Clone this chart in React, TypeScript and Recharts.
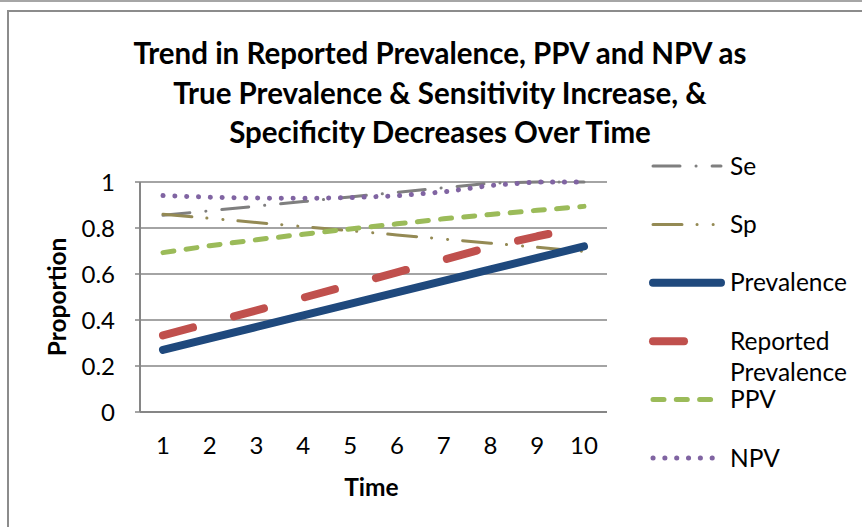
import React from 'react';
import { LineChart, Line, XAxis, YAxis, CartesianGrid } from 'recharts';

const times = [1, 2, 3, 4, 5, 6, 7, 8, 9, 10];
const se = [0.855, 0.875, 0.895, 0.915, 0.935, 0.955, 0.975, 0.995, 1.0, 1.0];
const sp = [0.86, 0.842, 0.824, 0.806, 0.788, 0.77, 0.752, 0.734, 0.716, 0.698];
const prevalence = [0.27, 0.32, 0.37, 0.42, 0.47, 0.52, 0.57, 0.62, 0.67, 0.72];
const reported = [0.333, 0.387, 0.442, 0.497, 0.552, 0.607, 0.662, 0.718, 0.764, 0.805];
const ppv = [0.693, 0.723, 0.749, 0.773, 0.796, 0.818, 0.84, 0.859, 0.877, 0.894];
const npv = [0.941, 0.934, 0.93, 0.929, 0.932, 0.94, 0.957, 0.985, 1.0, 1.0];
const yTicks = [0, 0.2, 0.4, 0.6, 0.8, 1];

const titleLines = [
  'Trend in Reported Prevalence, PPV and NPV as',
  'True Prevalence & Sensitivity Increase, &',
  'Specificity Decreases Over Time',
];

const data = times.map((t, i) => ({
  time: t,
  se: se[i],
  sp: sp[i],
  prevalence: prevalence[i],
  reported: reported[i],
  ppv: ppv[i],
  npv: npv[i],
}));

const FONT = 'Lato, "Open Sans", sans-serif';
const AXIS = '#868686';

// line styles, roughly matching the Excel presets
const series = [
  { key: 'se', name: ['Se'], color: '#7f7f7f', width: 3, dash: '27 16 0.1 16' },
  { key: 'sp', name: ['Sp'], color: '#948a54', width: 3, dash: '29 15 0.1 16 0.1 15' },
  { key: 'prevalence', name: ['Prevalence'], color: '#1f497d', width: 8, dash: undefined },
  { key: 'reported', name: ['Reported', 'Prevalence'], color: '#c0504d', width: 8, dash: '31 42.5' },
  { key: 'ppv', name: ['PPV'], color: '#9bbb59', width: 5, dash: '11 12.3' },
  { key: 'npv', name: ['NPV'], color: '#8064a2', width: 5, dash: '0.1 11.73' },
];

const LegendBox = () => (
  <svg width={230} height={360} style={{ position: 'absolute', left: 632, top: 130 }}>
    {series.map((s, i) => {
      const y = 36 + i * 58.4;
      return (
        <g key={s.key}>
          <line
            x1={21}
            x2={89}
            y1={y}
            y2={y}
            stroke={s.color}
            strokeWidth={s.width}
            strokeDasharray={s.dash}
            strokeLinecap="round"
          />
          <text x={98} y={y} fontFamily={FONT} fontSize={24.5} fill="#000">
            {s.name.map((n, j) => (
              <tspan key={j} x={98} dy={j === 0 ? '0.35em' : 31}>
                {n}
              </tspan>
            ))}
          </text>
        </g>
      );
    })}
  </svg>
);

export default function App() {
  return (
    <div
      style={{
        position: 'absolute',
        left: 0,
        top: 0,
        width: 862,
        height: 527,
        overflow: 'hidden',
        background: '#fff',
        fontFamily: FONT,
      }}
    >
      <div style={{ position: 'absolute', left: 0, top: 0, width: 862, height: 2, background: '#a6a6a6' }} />
      <div
        style={{
          position: 'absolute',
          left: 7,
          top: 10,
          width: 900,
          height: 600,
          borderLeft: '2px solid #8c8c8c',
          borderTop: '2px solid #8c8c8c',
        }}
      />
      <div
        style={{
          position: 'absolute',
          left: 90,
          top: 33,
          width: 700,
          textAlign: 'center',
          fontWeight: 700,
          fontSize: 29.5,
          lineHeight: '39.5px',
          color: '#000',
        }}
      >
        {titleLines.map((l) => (
          <div key={l} style={{ whiteSpace: 'nowrap' }}>{l}</div>
        ))}
      </div>
      <div style={{ position: 'absolute', left: 0, top: 0 }}>
        <LineChart
          width={862}
          height={527}
          data={data}
          margin={{ top: 182, right: 255, bottom: 40, left: 40 }}
        >
          <CartesianGrid vertical={false} stroke={AXIS} strokeWidth={1.5} />
          <XAxis
            dataKey="time"
            padding={{ left: 23, right: 23 }}
            axisLine={{ stroke: AXIS, strokeWidth: 2 }}
            tickLine={false}
            tickMargin={19}
            height={75}
            tick={{ fill: '#000', fontSize: 24, fontFamily: FONT }}
            label={{
              content: ({ viewBox }: any) => (
                <text
                  x={viewBox.x + viewBox.width / 2 - 2}
                  y={487}
                  dy="0.35em"
                  textAnchor="middle"
                  fontFamily={FONT}
                  fontWeight={700}
                  fontSize={24.5}
                  fill="#000"
                >
                  Time
                </text>
              ),
            }}
          />
          <YAxis
            domain={[0, 1]}
            ticks={yTicks}
            width={100}
            axisLine={{ stroke: AXIS, strokeWidth: 2 }}
            tickLine={{ stroke: AXIS, strokeWidth: 1.5 }}
            tickSize={5}
            tickMargin={20}
            tick={{ fill: '#000', fontSize: 24, fontFamily: FONT }}
            label={{
              content: ({ viewBox }: any) => {
                const cy = viewBox.y + viewBox.height / 2;
                return (
                  <text
                    x={57}
                    y={cy}
                    dy="0.35em"
                    textAnchor="middle"
                    transform={`rotate(-90 57 ${cy})`}
                    fontFamily={FONT}
                    fontWeight={700}
                    fontSize={24.5}
                    fill="#000"
                  >
                    Proportion
                  </text>
                );
              },
            }}
          />
          {series.map((s) => (
            <Line
              key={s.key}
              type="linear"
              dataKey={s.key}
              stroke={s.color}
              strokeWidth={s.width}
              strokeDasharray={s.dash}
              strokeLinecap="round"
              strokeLinejoin="round"
              dot={false}
              activeDot={false}
              isAnimationActive={false}
            />
          ))}
        </LineChart>
      </div>
      <LegendBox />
    </div>
  );
}
